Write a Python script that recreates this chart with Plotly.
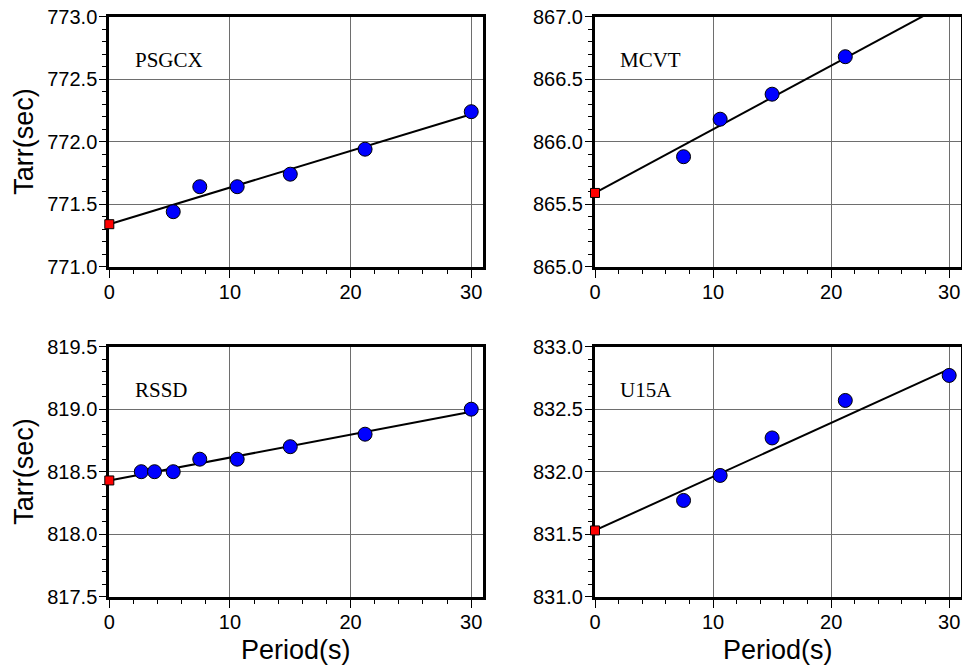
import plotly.graph_objects as go

# ---- data ----
stations = ["PSGCX", "MCVT", "RSSD", "U15A"]

psgcx_period = [5.3, 7.5, 10.6, 15.0, 21.2, 30.0]
psgcx_tarr = [771.44, 771.64, 771.64, 771.74, 771.94, 772.24]

mcvt_period = [7.5, 10.6, 15.0, 21.2]
mcvt_tarr = [865.88, 866.18, 866.38, 866.68]

rssd_period = [2.65, 3.75, 5.3, 7.5, 10.6, 15.0, 21.2, 30.0]
rssd_tarr = [818.50, 818.50, 818.50, 818.60, 818.60, 818.70, 818.80, 819.00]

u15a_period = [7.5, 10.6, 15.0, 21.2, 30.0]
u15a_tarr = [831.77, 831.97, 832.27, 832.57, 832.77]

# fitted line: intercept (red square at period 0) and slope
intercepts = [771.34, 865.59, 818.43, 831.53]
slopes = [0.0293, 0.0509, 0.0183, 0.0430]
fit_x_end = [30, 30, 30, 30]

y_ranges = [[771.0, 773.0], [865.0, 867.0], [817.5, 819.5], [831.0, 833.0]]
x_range = [0, 31]
x_title = "Period(s)"
y_title = "Tarr(sec)"

periods = [psgcx_period, mcvt_period, rssd_period, u15a_period]
tarrs = [psgcx_tarr, mcvt_tarr, rssd_tarr, u15a_tarr]

# ---- layout geometry (page has an 8px body margin) ----
OFF = 8
W, H = 970 - OFF, 668 - OFF


def px_x(v):
    return (v - OFF) / W


def px_y(v):
    return 1 - (v - OFF) / H


x_domains = [[px_x(109.3), px_x(483.3)], [px_x(595.0), px_x(961.0)]]
y_domains = [[px_y(266.7), px_y(16.7)], [px_y(596.7), px_y(346.7)]]

SANS = "Liberation Sans, Arial, Helvetica, sans-serif"
SERIF = "Liberation Serif, Times New Roman, serif"

fig = go.Figure()
layout = dict(
    width=W, height=H,
    margin=dict(l=0, r=0, t=0, b=0, pad=0, autoexpand=False),
    paper_bgcolor="white", plot_bgcolor="white",
    showlegend=False,
    annotations=[],
)

for i in range(4):
    row, col = divmod(i, 2)
    n = i + 1
    xa = "x" if n == 1 else f"x{n}"
    ya = "y" if n == 1 else f"y{n}"
    xkey = "xaxis" if n == 1 else f"xaxis{n}"
    ykey = "yaxis" if n == 1 else f"yaxis{n}"

    # fitted line
    x0, x1 = 0, fit_x_end[i]
    fig.add_trace(go.Scatter(
        x=[x0, x1],
        y=[intercepts[i] + slopes[i] * x0, intercepts[i] + slopes[i] * x1],
        mode="lines", line=dict(color="black", width=2),
        xaxis=xa, yaxis=ya, hoverinfo="skip",
    ))
    # measurements
    fig.add_trace(go.Scatter(
        x=periods[i], y=tarrs[i], mode="markers",
        marker=dict(symbol="circle", size=14, color="#0000ff",
                    line=dict(color="black", width=1)),
        xaxis=xa, yaxis=ya, cliponaxis=False,
    ))
    # intercept
    fig.add_trace(go.Scatter(
        x=[0], y=[intercepts[i]], mode="markers",
        marker=dict(symbol="square", size=9, color="#ff0000",
                    line=dict(color="black", width=1)),
        xaxis=xa, yaxis=ya, cliponaxis=False,
    ))

    layout[xkey] = dict(
        domain=x_domains[col], anchor=ya, range=x_range, automargin=False,
        tickvals=[0, 10, 20, 30], ticks="outside", ticklen=8, tickwidth=1,
        tickcolor="black", ticklabelstandoff=-3, ticklabeloverflow="allow",
        minor=dict(dtick=2, tick0=0, ticks="outside", ticklen=4,
                   tickcolor="black", showgrid=False),
        showgrid=True, gridcolor="#6e6e6e", gridwidth=1,
        showline=True, linecolor="black", linewidth=3, mirror=True,
        zeroline=False, layer="below traces",
        tickfont=dict(family=SANS, size=20, color="black"),
    )
    ylo, yhi = y_ranges[i]
    layout[ykey] = dict(
        domain=y_domains[row], anchor=xa, range=[ylo, yhi], automargin=False,
        dtick=0.5, tick0=ylo, tickformat=".1f",
        ticks="outside", ticklen=7, tickwidth=1, tickcolor="black",
        ticklabelstandoff=-2, ticklabeloverflow="allow",
        minor=dict(dtick=0.1, ticks="outside", ticklen=4,
                   tickcolor="black", showgrid=False),
        showgrid=True, gridcolor="#6e6e6e", gridwidth=1,
        showline=True, linecolor="black", linewidth=3, mirror=True,
        zeroline=False, layer="below traces",
        tickfont=dict(family=SANS, size=20, color="black"),
    )
    # station label
    layout["annotations"].append(dict(
        text=stations[i], xref=f"{xa} domain", yref=f"{ya} domain",
        x=0.064, y=0.827, xanchor="left", yanchor="middle",
        showarrow=False, font=dict(family=SERIF, size=21, color="black"),
    ))
    # axis titles
    if row == 1:
        layout["annotations"].append(dict(
            text=x_title, xref=f"{xa} domain", yref=f"{ya} domain",
            x=0.5, y=-0.213, xanchor="center", yanchor="middle",
            showarrow=False, font=dict(family=SANS, size=27, color="black"),
        ))
    if col == 0:
        layout["annotations"].append(dict(
            text=y_title, xref=f"{xa} domain", yref=f"{ya} domain",
            x=-0.228, y=0.5, xanchor="center", yanchor="middle",
            textangle=-90, showarrow=False,
            font=dict(family=SANS, size=27, color="black"),
        ))

fig.update_layout(**layout)
fig.write_html("out.html")
